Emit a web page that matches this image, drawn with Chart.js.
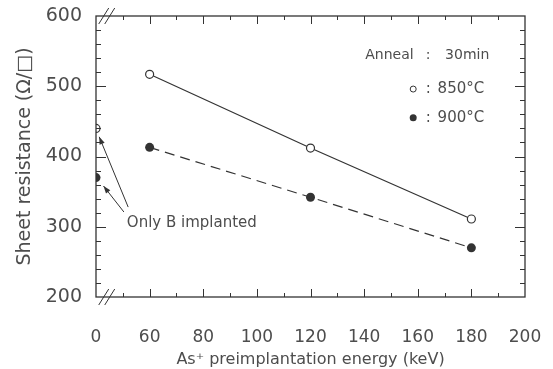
<!DOCTYPE html>
<html>
<head>
<meta charset="utf-8">
<script src="https://cdn.jsdelivr.net/npm/chart.js@4.4.1/dist/chart.umd.min.js"></script>
<style>
  html, body { margin: 0; padding: 0; background: #fff; }
  #wrap { width: 553px; height: 369px; position: relative; }
</style>
</head>
<body>
<div id="wrap"><canvas id="c" width="553" height="369"></canvas></div>
<script>
// ---- data ----
const energies = [0, 60, 120, 180];            // keV
const r850 = [440, 517, 412, 311];             // Ω/□, anneal 850°C
const r900 = [370, 413, 342, 270];             // Ω/□, anneal 900°C
const xTicks = [0, 60, 80, 100, 120, 140, 160, 180, 200];
const yTicks = [200, 300, 400, 500, 600];
const seriesNames = ['850°C', '900°C'];
const annealWord = 'Anneal';
const annealTime = '30min';
const noteLabel = 'Only B implanted';

// broken axis: 0 keV is drawn where 40 would be
const BREAK_POS = 40;
const toPos = e => (e === 0 ? BREAK_POS : e);
const toPts = vals => energies.map((e, i) => ({ x: toPos(e), y: vals[i] }));

const INK = '#333';
const TXT = '#4d4d4d';
const FONT = 'DejaVu Sans';

const framePlugin = {
  id: 'frame',
  afterDatasetsDraw(chart) {
    const { ctx, chartArea: a, scales: { x, y } } = chart;
    ctx.save();
    ctx.strokeStyle = INK;
    ctx.lineWidth = 1.3;
    ctx.strokeRect(a.left, a.top, a.right - a.left, a.bottom - a.top);
    ctx.lineWidth = 1;
    // x ticks (inward, top and bottom)
    for (let v = 50; v < 200; v += 10) {
      const px = Math.round(x.getPixelForValue(v)) + 0.5;
      const major = v % 20 === 0;
      const L = major ? 8 : 4;
      ctx.beginPath();
      ctx.moveTo(px, a.bottom); ctx.lineTo(px, a.bottom - L);
      ctx.moveTo(px, a.top); ctx.lineTo(px, a.top + L);
      ctx.stroke();
    }
    // y ticks (inward, left and right)
    for (let v = 220; v < 600; v += 20) {
      const py = Math.round(y.getPixelForValue(v)) + 0.5;
      const major = v % 100 === 0;
      const L = major ? 10 : 5;
      ctx.beginPath();
      ctx.moveTo(a.left, py); ctx.lineTo(a.left + L, py);
      ctx.moveTo(a.right, py); ctx.lineTo(a.right - L, py);
      ctx.stroke();
    }
    // axis break marks
    const bx = x.getPixelForValue(44);
    [a.top, a.bottom].forEach(yy => {
      [-3, 3].forEach(d => {
        ctx.beginPath();
        ctx.moveTo(bx + d - 5, yy + 8);
        ctx.lineTo(bx + d + 5, yy - 8);
        ctx.stroke();
      });
    });
    // arrows
    const arrow = (x0, y0, x1, y1) => {
      const p0 = [x.getPixelForValue(x0), y.getPixelForValue(y0)];
      const p1 = [x.getPixelForValue(x1), y.getPixelForValue(y1)];
      const ang = Math.atan2(p1[1] - p0[1], p1[0] - p0[0]);
      ctx.beginPath();
      ctx.moveTo(p0[0], p0[1]); ctx.lineTo(p1[0], p1[1]);
      ctx.stroke();
      const h = 8, w = 0.35;
      ctx.beginPath();
      ctx.moveTo(p1[0], p1[1]);
      ctx.lineTo(p1[0] - h * Math.cos(ang - w), p1[1] - h * Math.sin(ang - w));
      ctx.lineTo(p1[0] - h * Math.cos(ang + w), p1[1] - h * Math.sin(ang + w));
      ctx.closePath();
      ctx.fillStyle = INK;
      ctx.fill();
    };
    arrow(52.0, 328, 41.2, 428);
    arrow(50.4, 321, 42.8, 358);
    // texts
    ctx.fillStyle = TXT;
    ctx.textBaseline = 'middle';
    ctx.textAlign = 'left';
    ctx.font = '15px ' + FONT;
    ctx.fillText(noteLabel, x.getPixelForValue(51.5), y.getPixelForValue(305));
    ctx.font = '14px ' + FONT;
    const ya = y.getPixelForValue(544);
    ctx.fillText(annealWord, x.getPixelForValue(140.4), ya);
    ctx.fillText(':', x.getPixelForValue(163.0), ya);
    ctx.fillText(annealTime, x.getPixelForValue(170.2), ya);
    const lx = x.getPixelForValue(158.3);
    const ly1 = y.getPixelForValue(496), ly2 = y.getPixelForValue(455);
    ctx.font = '15px ' + FONT;
    [ly1, ly2].forEach((ly, i) => {
      ctx.fillText(':', x.getPixelForValue(163.0), ly);
      ctx.fillText(seriesNames[i], x.getPixelForValue(167.4), ly);
    });
    ctx.strokeStyle = INK;
    ctx.beginPath(); ctx.arc(lx, ly1, 3, 0, Math.PI * 2); ctx.stroke();
    ctx.beginPath(); ctx.arc(lx, ly2, 3.5, 0, Math.PI * 2); ctx.fillStyle = INK; ctx.fill();
    ctx.restore();
  }
};

new Chart(document.getElementById('c'), {
  type: 'scatter',
  data: {
    datasets: [
      {
        label: seriesNames[0],
        data: toPts(r850),
        showLine: true,
        borderColor: INK,
        borderWidth: 1.2,
        segment: { borderColor: c => (c.p0DataIndex === 0 ? 'rgba(0,0,0,0)' : INK) },
        pointRadius: 4,
        pointBorderWidth: 1.2,
        pointBackgroundColor: '#fff',
        pointBorderColor: INK
      },
      {
        label: seriesNames[1],
        data: toPts(r900),
        showLine: true,
        borderColor: INK,
        borderWidth: 1.2,
        borderDash: [10, 6],
        segment: { borderColor: c => (c.p0DataIndex === 0 ? 'rgba(0,0,0,0)' : INK) },
        pointRadius: 4.5,
        pointBorderWidth: 0,
        pointBackgroundColor: INK,
        pointBorderColor: INK
      }
    ]
  },
  options: {
    responsive: false,
    animation: false,
    layout: { padding: { top: 16, right: 28, left: 0, bottom: 0 } },
    plugins: { legend: { display: false }, tooltip: { enabled: false } },
    scales: {
      x: {
        type: 'linear',
        min: BREAK_POS, max: 200,
        afterBuildTicks: s => { s.ticks = xTicks.map(v => ({ value: toPos(v) })); },
        afterFit: s => { s.height = 72; s.paddingLeft = 0; s.paddingRight = 0; },
        grid: { display: false, drawTicks: false },
        border: { display: false },
        ticks: {
          padding: 30,
          color: TXT,
          font: { family: FONT, size: 17 },
          callback: v => (v === BREAK_POS ? '0' : String(v)),
          maxRotation: 0, autoSkip: false
        },
        title: {
          display: true,
          text: 'As\u207A preimplantation energy (keV)',
          color: TXT,
          font: { family: FONT, size: 16 },
          padding: { top: 0, bottom: 0 }
        }
      },
      y: {
        type: 'linear',
        min: 200, max: 600,
        afterBuildTicks: s => { s.ticks = yTicks.map(v => ({ value: v })); },
        afterFit: s => { s.width = 96; s.paddingTop = 0; s.paddingBottom = 0; },
        grid: { display: false, drawTicks: false },
        border: { display: false },
        ticks: {
          padding: 14,
          color: TXT,
          font: { family: FONT, size: 19 }
        },
        title: {
          display: true,
          text: 'Sheet resistance (\u03A9/\u25A1)',
          color: TXT,
          font: { family: FONT, size: 19 },
          padding: { top: 14, bottom: 0 }
        }
      }
    }
  },
  plugins: [framePlugin]
});
</script>
</body>
</html>
